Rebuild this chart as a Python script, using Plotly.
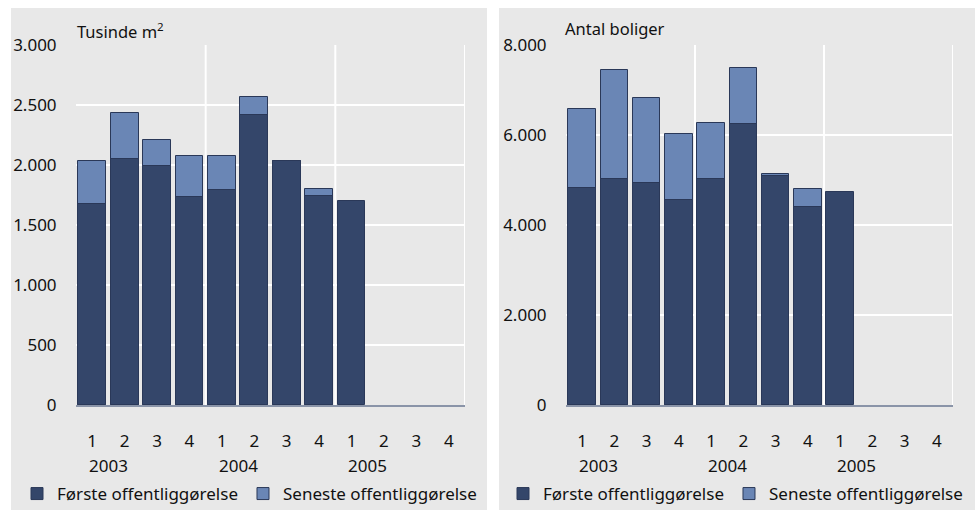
import plotly.graph_objects as go

# ---------------- data ----------------
quarters = ["1", "2", "3", "4", "1", "2", "3", "4", "1", "2", "3", "4"]
years = ["2003", "2004", "2005"]

area_first = [1675, 2052, 1989, 1731, 1789, 2414, 2031, 1739, 1697, None, None, None]
area_latest = [2033, 2431, 2206, 2075, 2075, 2567, 2031, 1797, None, None, None, None]

dwell_first = [4820, 5029, 4925, 4553, 5029, 6255, 5088, 4390, 4724, None, None, None]
dwell_latest = [6589, 7443, 6812, 6032, 6262, 7481, 5141, 4807, None, None, None, None]

name_first = "Første offentliggørelse"
name_latest = "Seneste offentliggørelse"

area_ticks = [0, 500, 1000, 1500, 2000, 2500, 3000]
dwell_ticks = [0, 2000, 4000, 6000, 8000]

# ---------------- style ----------------
W, H = 975, 510
FONT = "Noto Sans"
FS = 17
DARK = "#34466a"
LIGHT = "#6a86b5"
EDGE = "#2a3858"
PANEL = "#e8e8e8"
PLOT = "#dcdcdc"
AXIS = "#8a94a8"

def px(x):
    return x / W

def py(y):
    return (H - y) / H

y_dom = [py(405), py(45)]
left_dom = [px(76), px(465)]
right_dom = [px(566), px(953)]

xs = list(range(len(quarters)))


def fmt(v):
    return f"{v:,}".replace(",", ".")


fig = go.Figure()

panels = [
    ("x", "y", area_first, area_latest, "legend"),
    ("x2", "y2", dwell_first, dwell_latest, "legend2"),
]
for xa, ya, first, latest, leg in panels:
    fig.add_trace(go.Bar(
        x=xs, y=latest, name=name_latest, xaxis=xa, yaxis=ya,
        marker=dict(color=LIGHT, line=dict(color=EDGE, width=1)),
        width=0.86, legend=leg, legendrank=2,
    ))
    fig.add_trace(go.Bar(
        x=xs, y=first, name=name_first, xaxis=xa, yaxis=ya,
        marker=dict(color=DARK, line=dict(color=EDGE, width=1)),
        width=0.86, legend=leg, legendrank=1,
    ))

xaxis_common = dict(
    range=[-0.5, len(quarters) - 0.5],
    tickmode="array", tickvals=xs, ticktext=quarters,
    showgrid=False, zeroline=False,
    showline=True, linecolor=AXIS, linewidth=2,
    ticks="outside", ticklen=20, tickcolor="rgba(0,0,0,0)",
    tickfont=dict(family=FONT, size=FS, color="#111"),
    fixedrange=True, automargin=False,
)
yaxis_common = dict(
    showgrid=True, gridcolor="white", gridwidth=2,
    zeroline=False, showline=False,
    ticks="outside", ticklen=15, tickcolor="rgba(0,0,0,0)",
    tickfont=dict(family=FONT, size=FS, color="#111"),
    tickmode="array", automargin=False, fixedrange=True,
)

fig.update_layout(
    width=W, height=H,
    margin=dict(l=0, r=0, t=0, b=0, pad=0, autoexpand=False),
    paper_bgcolor="white",
    plot_bgcolor=PLOT,
    barmode="overlay",
    bargap=0,
    showlegend=True,
    xaxis=dict(domain=left_dom, anchor="y", **xaxis_common),
    xaxis2=dict(domain=right_dom, anchor="y2", **xaxis_common),
    yaxis=dict(domain=y_dom, anchor="x", range=[0, area_ticks[-1]],
               tickvals=area_ticks, ticktext=[fmt(v) for v in area_ticks],
               **yaxis_common),
    yaxis2=dict(domain=y_dom, anchor="x2", range=[0, dwell_ticks[-1]],
                tickvals=dwell_ticks, ticktext=[fmt(v) for v in dwell_ticks],
                **yaxis_common),
    legend=dict(orientation="h", x=px(17), xanchor="left", y=py(494), yanchor="middle",
                font=dict(family=FONT, size=17, color="#111"),
                bgcolor="rgba(0,0,0,0)", traceorder="normal"),
    legend2=dict(orientation="h", x=px(503), xanchor="left", y=py(494), yanchor="middle",
                 font=dict(family=FONT, size=17, color="#111"),
                 bgcolor="rgba(0,0,0,0)", traceorder="normal"),
)

shapes = [
    # panel backgrounds
    dict(type="rect", xref="paper", yref="paper", x0=px(11), x1=px(487), y0=0, y1=py(8),
         fillcolor=PANEL, line=dict(width=0), layer="below"),
    dict(type="rect", xref="paper", yref="paper", x0=px(499), x1=1, y0=0, y1=py(8),
         fillcolor=PANEL, line=dict(width=0), layer="below"),
]
# year separators and right frame lines
for xa, ya in [("x", "y"), ("x2", "y2")]:
    for i in range(4, len(quarters), 4):
        shapes.append(dict(type="line", xref=xa, yref=f"{ya} domain", x0=i - 0.5, x1=i - 0.5,
                           y0=0, y1=1, line=dict(color="white", width=2), layer="below"))
    shapes.append(dict(type="line", xref=xa, yref=f"{ya} domain",
                       x0=len(quarters) - 0.5, x1=len(quarters) - 0.5,
                       y0=0, y1=1, line=dict(color="white", width=2), layer="below"))
fig.update_layout(shapes=shapes)

annotations = []
for xa in ["x", "x2"]:
    for k, yr in enumerate(years):
        annotations.append(dict(x=4 * k + 0.5, xref=xa, y=py(465), yref="paper",
                                text=yr, showarrow=False,
                                font=dict(family=FONT, size=FS, color="#111"),
                                xanchor="center", yanchor="middle"))
annotations.append(dict(x=px(75), xref="paper", y=py(31), yref="paper",
                        text="Tusinde m<sup>2</sup>", showarrow=False,
                        xanchor="left", yanchor="middle",
                        font=dict(family=FONT, size=16.5, color="#111")))
annotations.append(dict(x=px(563), xref="paper", y=py(28), yref="paper",
                        text="Antal boliger", showarrow=False,
                        xanchor="left", yanchor="middle",
                        font=dict(family=FONT, size=16.5, color="#111")))
fig.update_layout(annotations=annotations)

fig.write_html("out.html", config={"displayModeBar": False},
               post_script="document.body.style.margin='0';")
